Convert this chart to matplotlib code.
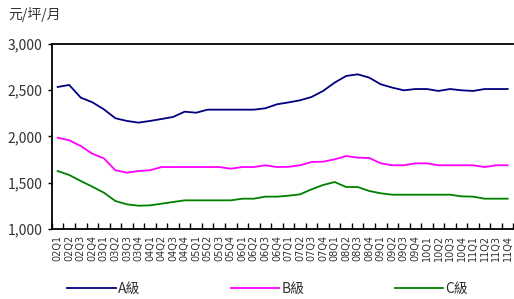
import matplotlib
matplotlib.use('Agg')
from matplotlib import pyplot as plt
from matplotlib.ticker import FuncFormatter, FixedLocator
import numpy as np

plt.rcParams['font.family'] = ['Noto Sans CJK TC', 'DejaVu Sans']

quarters = ['%02dQ%d' % (y, q) for y in range(2, 12) for q in range(1, 5)]

grade_a = [2535, 2557, 2420, 2370, 2294, 2197, 2168, 2150, 2168, 2189,
           2211, 2268, 2257, 2290, 2290, 2290, 2290, 2290, 2305, 2348,
           2368, 2391, 2427, 2492, 2582, 2654, 2672, 2636, 2564, 2528,
           2499, 2513, 2513, 2492, 2513, 2499, 2492, 2513, 2513, 2513]
grade_b = [1987, 1959, 1897, 1814, 1764, 1635, 1609, 1627, 1635, 1670,
           1670, 1670, 1670, 1670, 1670, 1652, 1670, 1670, 1689, 1670,
           1672, 1689, 1724, 1728, 1753, 1789, 1771, 1768, 1710, 1689,
           1689, 1710, 1710, 1689, 1689, 1689, 1689, 1670, 1689, 1689]
grade_c = [1627, 1584, 1519, 1458, 1393, 1303, 1267, 1252, 1256, 1274,
           1292, 1310, 1310, 1310, 1310, 1310, 1328, 1328, 1350, 1350,
           1360, 1375, 1429, 1476, 1508, 1454, 1454, 1411, 1386, 1371,
           1371, 1371, 1371, 1371, 1371, 1353, 1350, 1328, 1328, 1328]

series_names = ['A級', 'B級', 'C級']
series_colors = ['#000080', '#FF00FF', '#008000']

fig = plt.figure(figsize=(5.14, 2.99), dpi=100)
ax = fig.add_axes([0.101, 0.234, 0.898, 0.619])

x = np.arange(len(quarters))
for vals, name, col in zip([grade_a, grade_b, grade_c], series_names, series_colors):
    ax.plot(x, vals, color=col, lw=1.3, label=name)

ax.set_xlim(-0.5, len(quarters) - 0.5)
ax.set_ylim(1000, 3000)
ax.set_yticks([1000, 1500, 2000, 2500, 3000])
ax.yaxis.set_major_formatter(FuncFormatter(lambda v, p: '{:,.0f}'.format(v)))

ax.set_xticks(x)
ax.set_xticklabels(quarters, rotation=90, fontsize=7, family='DejaVu Sans', color='#333333')
ax.xaxis.set_minor_locator(FixedLocator(np.arange(len(quarters) + 1) - 0.5))
ax.tick_params(axis='x', which='major', length=0, pad=4)
ax.tick_params(axis='x', which='minor', direction='in', length=4, width=1)
ax.tick_params(axis='y', direction='out', length=3, width=1, labelsize=10, pad=4)
ax.tick_params(axis='y', labelcolor='#333333')

ax.spines['right'].set_visible(False)
for s in ['left', 'bottom', 'top']:
    ax.spines[s].set_linewidth(1.3)
    ax.spines[s].set_color('black')

fig.text(0.016, 0.95, '元/坪/月', fontsize=10, color='#333333', va='center', ha='left')

leg = fig.legend(loc='center left', bbox_to_anchor=(0.107, 0.035), ncol=3, frameon=False,
                 fontsize=10, handlelength=3.5, handletextpad=0.15, columnspacing=6.5)
for t in leg.get_texts():
    t.set_color('#333333')

fig.savefig('out.png', dpi=100)
